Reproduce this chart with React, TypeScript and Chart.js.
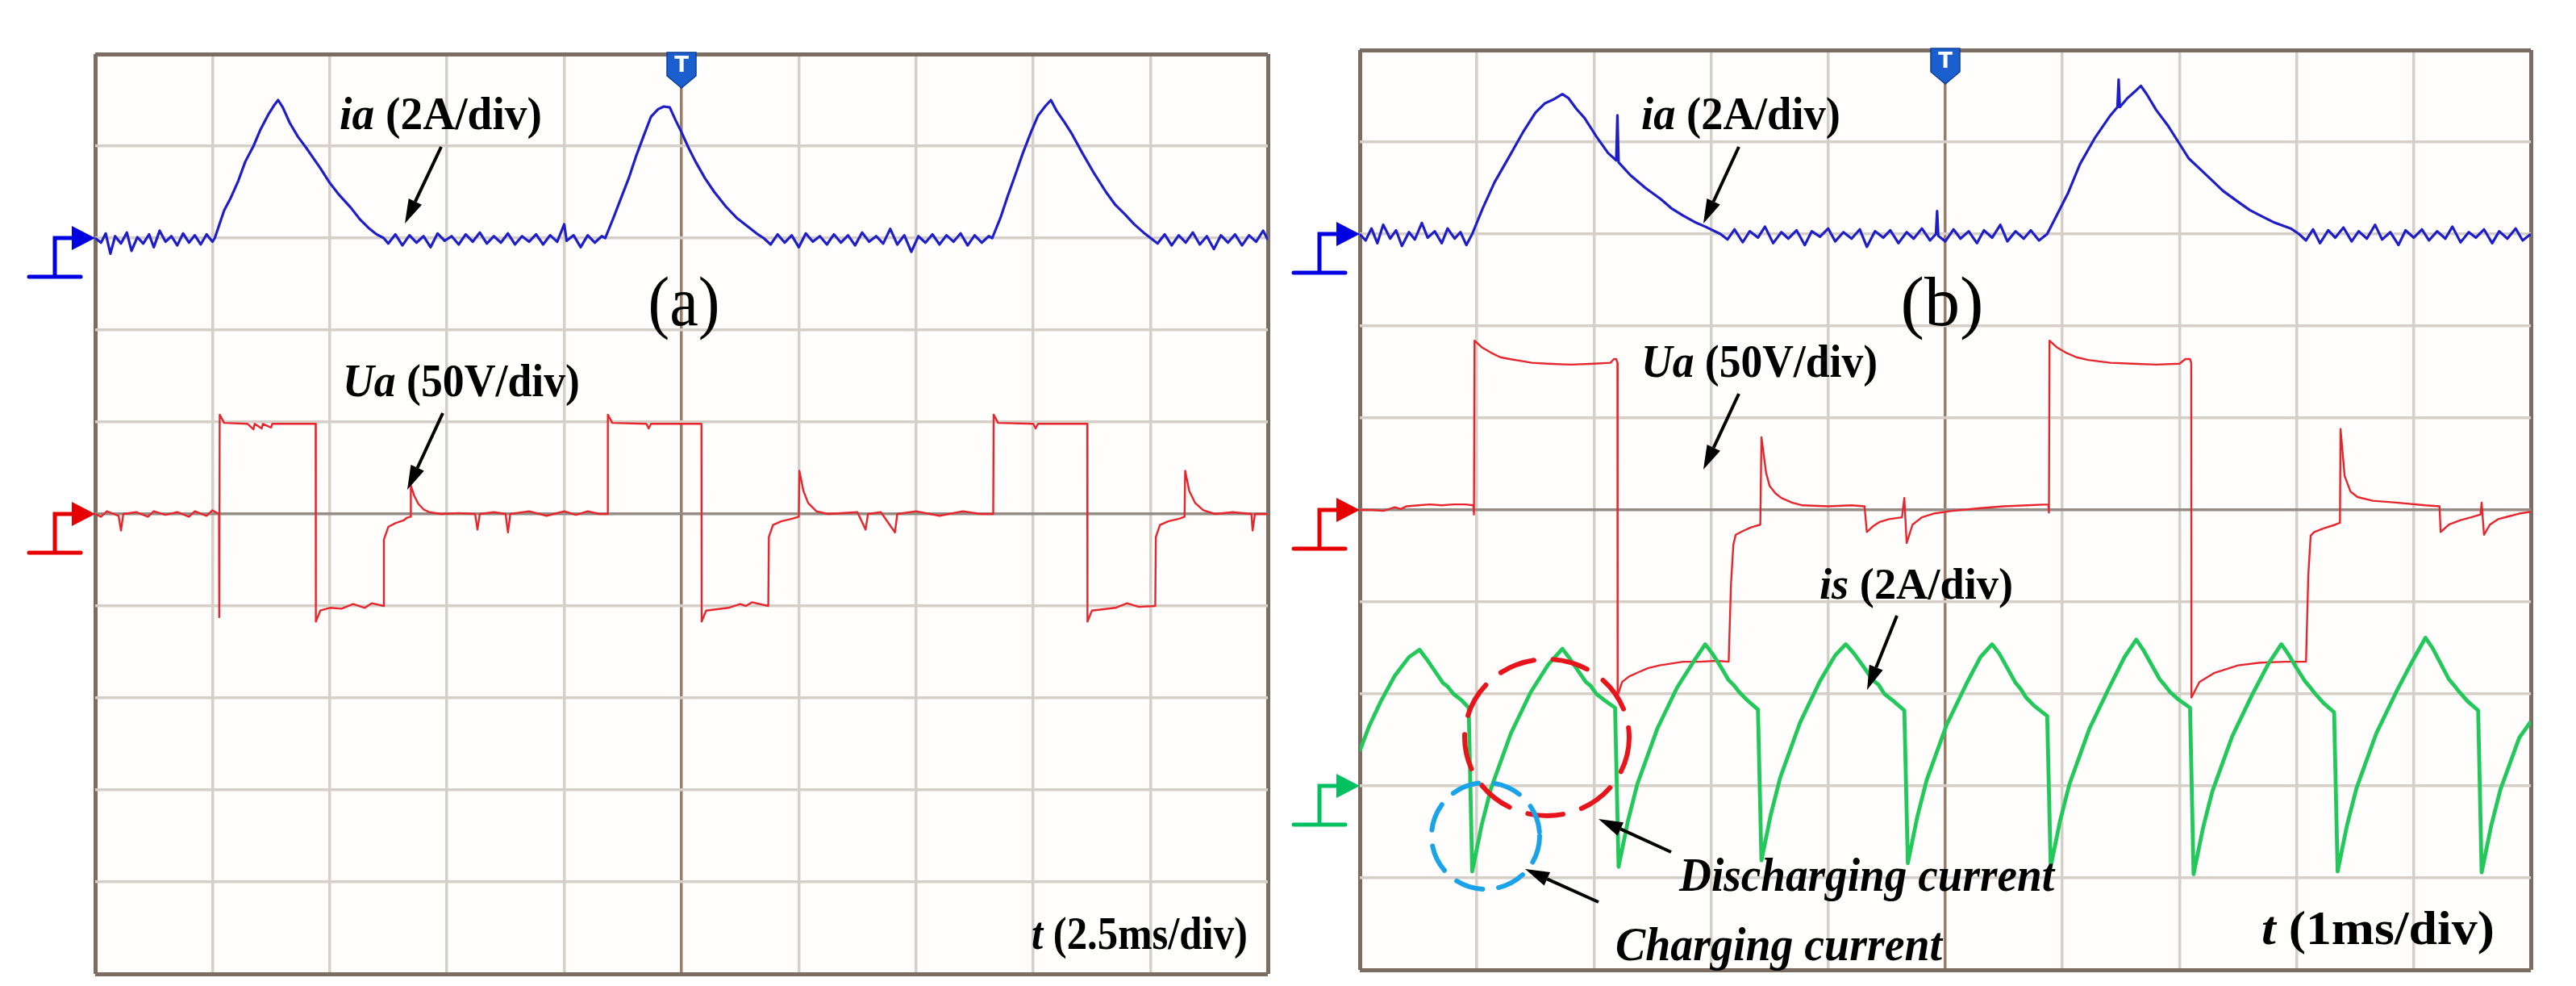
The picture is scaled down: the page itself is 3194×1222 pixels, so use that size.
import React, { useEffect, useRef } from 'react';
import { Chart, registerables } from 'chart.js';

Chart.register(...registerables);

const W = 3194;
const H = 1222;

// ---------- Panel (a): t = 2.5 ms/div, values in screen divisions ----------
const A_IA: number[][] = [
  [0, 8.0], [0.05, 7.95], [0.09, 8.05], [0.13, 7.83], [0.17, 8.02], [0.22, 7.94], [0.27, 8.06], [0.31, 7.86], [0.36, 8.01], [0.41, 7.94], [0.46, 8.04], [0.5, 7.9], [0.55, 8.08], [0.6, 7.96], [0.65, 8.02], [0.7, 7.92], [0.75, 8.05], [0.8, 7.95], [0.85, 8.03], [0.9, 7.93], [0.95, 8.04], [1.0, 7.96], [1.02, 8.0],
  [1.1, 8.3], [1.15, 8.42], [1.22, 8.62], [1.28, 8.83], [1.35, 9.0], [1.41, 9.18], [1.48, 9.35], [1.53, 9.45], [1.56, 9.5],
  [1.6, 9.42], [1.66, 9.25], [1.73, 9.1], [1.8, 8.98], [1.86, 8.87], [1.92, 8.76], [2.0, 8.6], [2.08, 8.47], [2.18, 8.33], [2.26, 8.2], [2.34, 8.1], [2.4, 8.04], [2.46, 8.0],
  [2.5, 7.94], [2.56, 8.04], [2.62, 7.92], [2.68, 8.03], [2.74, 7.95], [2.8, 8.02], [2.86, 7.9], [2.92, 8.05], [2.98, 7.97], [3.04, 8.02], [3.1, 7.93], [3.16, 8.04], [3.22, 7.96], [3.28, 8.06], [3.34, 7.94], [3.4, 8.02], [3.46, 7.95], [3.52, 8.05], [3.58, 7.93], [3.64, 8.02], [3.7, 7.96], [3.76, 8.04], [3.82, 7.93], [3.88, 8.03], [3.94, 7.96], [4.0, 8.15], [4.02, 7.97], [4.08, 8.03], [4.14, 7.9], [4.2, 8.03], [4.26, 7.95], [4.32, 8.02], [4.35, 8.0],
  [4.42, 8.22], [4.48, 8.42], [4.55, 8.65], [4.61, 8.88], [4.68, 9.12], [4.74, 9.32], [4.8, 9.4], [4.85, 9.43], [4.9, 9.42],
  [4.95, 9.28], [5.0, 9.15], [5.06, 8.98], [5.12, 8.83], [5.2, 8.65], [5.28, 8.5], [5.38, 8.34], [5.47, 8.22], [5.57, 8.12], [5.64, 8.05], [5.7, 8.0],
  [5.76, 7.93], [5.82, 8.04], [5.88, 7.95], [5.94, 8.03], [6.0, 7.9], [6.06, 8.05], [6.12, 7.96], [6.18, 8.02], [6.24, 7.93], [6.3, 8.04], [6.36, 7.95], [6.42, 8.03], [6.48, 7.92], [6.54, 8.06], [6.6, 7.96], [6.66, 8.02], [6.72, 7.94], [6.78, 8.1], [6.84, 7.93], [6.9, 8.03], [6.96, 7.85], [7.02, 8.02], [7.08, 7.95], [7.14, 8.04], [7.2, 7.93], [7.26, 8.03], [7.32, 7.96], [7.38, 8.05], [7.44, 7.92], [7.5, 8.03], [7.56, 7.95], [7.62, 8.02], [7.65, 8.0],
  [7.72, 8.22], [7.78, 8.45], [7.85, 8.7], [7.91, 8.92], [7.98, 9.15], [8.04, 9.33], [8.1, 9.43], [8.15, 9.5],
  [8.2, 9.38], [8.26, 9.27], [8.33, 9.13], [8.42, 8.92], [8.52, 8.7], [8.62, 8.5], [8.7, 8.36], [8.78, 8.26], [8.86, 8.15], [8.94, 8.06], [9.0, 8.0],
  [9.06, 7.94], [9.12, 8.04], [9.18, 7.92], [9.24, 8.03], [9.3, 7.95], [9.36, 8.06], [9.42, 7.93], [9.48, 8.02], [9.54, 7.88], [9.6, 8.03], [9.66, 7.95], [9.72, 8.04], [9.78, 7.92], [9.84, 8.03], [9.9, 7.96], [9.96, 8.08], [10, 7.98],
];

const A_UA: number[][] = [
  [0, 5.0], [0.05, 4.97], [0.1, 5.03], [0.2, 4.98], [0.22, 4.82], [0.24, 5.0], [0.35, 5.02], [0.45, 4.97], [0.5, 5.03], [0.6, 4.99], [0.7, 5.02], [0.8, 4.97], [0.85, 5.03], [0.95, 4.98], [1.0, 5.04], [1.056, 5.0],
  [1.058, 3.88], [1.062, 6.08], [1.1, 5.99], [1.3, 5.98], [1.35, 5.92], [1.36, 5.98], [1.42, 5.93], [1.43, 5.98], [1.5, 5.94], [1.51, 5.98], [1.88, 5.98],
  [1.882, 3.83], [1.92, 3.95], [2.0, 3.98], [2.1, 3.97], [2.2, 4.02], [2.3, 3.98], [2.36, 4.03], [2.46, 4.0],
  [2.462, 4.72], [2.5, 4.86], [2.56, 4.9], [2.63, 4.93], [2.66, 4.96], [2.69, 4.97], [2.692, 5.31], [2.72, 5.2], [2.756, 5.11], [2.8, 5.05], [2.85, 5.02], [2.95, 5.0],
  [3.1, 5.01], [3.24, 5.0], [3.26, 4.83], [3.28, 5.0], [3.4, 5.02], [3.5, 5.0], [3.52, 4.8], [3.54, 5.0], [3.7, 5.03], [3.85, 4.98], [4.0, 5.03], [4.1, 4.99], [4.2, 5.03], [4.3, 5.0], [4.368, 5.0],
  [4.372, 6.08], [4.41, 5.99], [4.7, 5.98], [4.72, 5.93], [4.74, 5.98], [5.17, 5.98],
  [5.172, 3.83], [5.21, 3.95], [5.4, 3.98], [5.5, 4.02], [5.55, 4.0], [5.6, 4.04], [5.74, 4.0],
  [5.745, 4.75], [5.78, 4.88], [5.85, 4.92], [5.95, 4.95], [6.0, 4.97], [6.005, 5.47], [6.04, 5.25], [6.08, 5.12], [6.15, 5.03], [6.25, 5.0],
  [6.5, 5.02], [6.57, 4.83], [6.59, 5.0], [6.7, 5.02], [6.82, 4.8], [6.84, 5.0], [7.0, 5.03], [7.2, 4.98], [7.4, 5.03], [7.55, 5.0], [7.658, 5.0],
  [7.662, 6.08], [7.7, 5.99], [8.0, 5.98], [8.02, 5.93], [8.04, 5.98], [8.46, 5.98],
  [8.462, 3.83], [8.5, 3.95], [8.7, 3.98], [8.8, 4.03], [8.9, 3.99], [9.04, 4.0],
  [9.045, 4.75], [9.08, 4.88], [9.15, 4.92], [9.25, 4.95], [9.29, 4.97], [9.295, 5.47], [9.33, 5.25], [9.38, 5.12], [9.45, 5.04], [9.55, 5.0], [9.7, 5.02], [9.86, 5.0], [9.87, 4.82], [9.89, 5.0], [10, 5.0],
];

// ---------- Panel (b): t = 1 ms/div ----------
const B_IA: number[][] = [
  [0, 8.0], [0.05, 7.93], [0.1, 8.06], [0.15, 7.9], [0.2, 8.1], [0.26, 7.95], [0.31, 8.04], [0.36, 7.87], [0.42, 8.02], [0.47, 7.94], [0.53, 8.12], [0.58, 7.96], [0.64, 8.03], [0.7, 7.9], [0.75, 8.06], [0.81, 7.95], [0.86, 8.02], [0.91, 7.88], [0.96, 8.0],
  [1.05, 8.28], [1.15, 8.56], [1.28, 8.85], [1.4, 9.12], [1.5, 9.32], [1.58, 9.42], [1.65, 9.46], [1.73, 9.52], [1.78, 9.48],
  [1.85, 9.36], [1.92, 9.26], [2.02, 9.06], [2.12, 8.88], [2.19, 8.8], [2.2, 9.29], [2.21, 8.78], [2.31, 8.64], [2.44, 8.5], [2.57, 8.38], [2.66, 8.28], [2.76, 8.2], [2.86, 8.13], [2.95, 8.08], [3.08, 8.0],
  [3.14, 7.94], [3.2, 8.05], [3.27, 7.91], [3.33, 8.03], [3.4, 7.96], [3.46, 8.08], [3.53, 7.9], [3.6, 8.02], [3.66, 7.95], [3.73, 8.04], [3.8, 7.88], [3.86, 8.03], [3.93, 7.97], [4.0, 8.06], [4.06, 7.92], [4.13, 8.02], [4.2, 7.95], [4.27, 8.05], [4.33, 7.86], [4.4, 8.03], [4.47, 7.96], [4.53, 8.04], [4.6, 7.9], [4.67, 8.02], [4.73, 7.95], [4.8, 8.06], [4.87, 7.93], [4.92, 8.0], [4.93, 8.25], [4.94, 7.98], [5.0, 7.92], [5.07, 8.05], [5.13, 7.95], [5.2, 8.03], [5.27, 7.9], [5.33, 8.04], [5.4, 7.96], [5.47, 8.1], [5.53, 7.92], [5.6, 8.03], [5.67, 7.95], [5.73, 8.04], [5.8, 7.93], [5.87, 8.0],
  [5.95, 8.2], [6.05, 8.45], [6.15, 8.76], [6.28, 9.05], [6.41, 9.29], [6.47, 9.38], [6.48, 9.68], [6.49, 9.38], [6.55, 9.47], [6.62, 9.55], [6.67, 9.61], [6.72, 9.52],
  [6.8, 9.35], [6.9, 9.18], [6.99, 9.0], [7.08, 8.82], [7.18, 8.7], [7.28, 8.58], [7.37, 8.47], [7.5, 8.35], [7.6, 8.26], [7.69, 8.2], [7.8, 8.13], [7.95, 8.06], [8.02, 8.0],
  [8.08, 7.93], [8.14, 8.05], [8.2, 7.9], [8.27, 8.04], [8.33, 7.96], [8.4, 8.07], [8.47, 7.92], [8.53, 8.03], [8.6, 7.95], [8.67, 8.1], [8.73, 7.94], [8.8, 8.02], [8.87, 7.88], [8.93, 8.04], [9.0, 7.96], [9.07, 8.05], [9.13, 7.93], [9.2, 8.03], [9.27, 7.95], [9.33, 8.08], [9.4, 7.91], [9.47, 8.02], [9.53, 7.96], [9.6, 8.05], [9.67, 7.9], [9.73, 8.03], [9.8, 7.95], [9.87, 8.06], [9.93, 7.93], [10, 8.0],
];

const B_UA: number[][] = [
  [0, 5.0], [0.1, 5.0], [0.2, 4.99], [0.3, 5.03], [0.35, 5.01], [0.4, 5.04], [0.5, 5.05], [0.6, 5.06], [0.7, 5.05], [0.8, 5.06], [0.9, 5.06], [0.97, 5.05], [0.975, 4.95],
  [0.98, 6.84], [1.04, 6.77], [1.12, 6.71], [1.2, 6.66], [1.28, 6.64], [1.38, 6.62], [1.47, 6.6], [1.6, 6.59], [1.8, 6.58], [2.0, 6.59], [2.14, 6.6], [2.17, 6.64], [2.19, 6.64], [2.2, 6.6],
  [2.202, 2.98], [2.24, 3.13], [2.3, 3.19], [2.37, 3.23], [2.46, 3.28], [2.56, 3.31], [2.66, 3.33], [2.76, 3.35], [2.9, 3.35], [3.05, 3.36], [3.15, 3.35],
  [3.17, 4.2], [3.19, 4.62], [3.21, 4.73], [3.27, 4.77], [3.34, 4.81], [3.42, 4.84], [3.43, 5.79], [3.47, 5.4], [3.5, 5.26], [3.55, 5.18], [3.6, 5.13], [3.69, 5.08], [3.78, 5.05], [4.0, 5.04], [4.2, 5.05], [4.31, 5.04],
  [4.33, 4.76], [4.38, 4.82], [4.44, 4.87], [4.52, 4.9], [4.63, 4.92], [4.65, 5.13], [4.67, 4.64], [4.72, 4.84], [4.8, 4.92], [4.9, 4.96], [5.06, 4.99], [5.3, 5.02], [5.5, 5.04], [5.7, 5.05], [5.88, 5.06], [5.885, 4.97],
  [5.89, 6.84], [5.95, 6.77], [6.03, 6.71], [6.12, 6.66], [6.22, 6.63], [6.41, 6.6], [6.6, 6.59], [6.8, 6.58], [7.0, 6.59], [7.05, 6.64], [7.09, 6.64], [7.1, 6.6],
  [7.102, 2.96], [7.17, 3.13], [7.3, 3.23], [7.5, 3.31], [7.69, 3.34], [7.9, 3.35], [8.08, 3.35],
  [8.1, 4.3], [8.12, 4.72], [8.15, 4.76], [8.23, 4.8], [8.33, 4.84], [8.37, 4.86], [8.375, 5.88], [8.41, 5.37], [8.46, 5.2], [8.52, 5.14], [8.65, 5.1], [8.85, 5.08], [9.1, 5.05], [9.22, 5.04],
  [9.23, 4.76], [9.3, 4.84], [9.4, 4.89], [9.49, 4.92], [9.57, 4.95], [9.58, 5.08], [9.6, 4.73], [9.65, 4.84], [9.72, 4.9], [9.81, 4.93], [9.9, 4.96], [10, 4.98],
];

const B_IS: number[][] = [
  [0, 2.38], [0.08, 2.65], [0.18, 2.92], [0.3, 3.2], [0.42, 3.4], [0.51, 3.48],
  [0.57, 3.38], [0.64, 3.25], [0.71, 3.12], [0.75, 3.08], [0.8, 3.0], [0.87, 2.93], [0.93, 2.85], [0.96, 1.07],
  [1.04, 1.57], [1.12, 1.97], [1.29, 2.57], [1.46, 3.02], [1.61, 3.32], [1.73, 3.49],
  [1.79, 3.39], [1.86, 3.26], [1.93, 3.13], [1.97, 3.09], [2.02, 3.0], [2.09, 2.93], [2.18, 2.85], [2.21, 1.12],
  [2.29, 1.62], [2.37, 2.02], [2.54, 2.62], [2.71, 3.07], [2.86, 3.37], [2.95, 3.54],
  [3.01, 3.44], [3.08, 3.3], [3.15, 3.15], [3.19, 3.1], [3.24, 3.02], [3.31, 2.93], [3.4, 2.83], [3.43, 1.19],
  [3.51, 1.69], [3.59, 2.09], [3.76, 2.69], [3.93, 3.14], [4.06, 3.42], [4.15, 3.54],
  [4.22, 3.44], [4.3, 3.3], [4.38, 3.15], [4.43, 3.1], [4.48, 3.0], [4.56, 2.92], [4.65, 2.82], [4.68, 1.16],
  [4.76, 1.66], [4.84, 2.06], [5.01, 2.66], [5.18, 3.11], [5.3, 3.4], [5.4, 3.54],
  [5.46, 3.44], [5.53, 3.28], [5.6, 3.12], [5.64, 3.06], [5.69, 2.96], [5.76, 2.87], [5.87, 2.76], [5.9, 1.12],
  [5.98, 1.62], [6.06, 2.02], [6.23, 2.62], [6.4, 3.07], [6.53, 3.4], [6.63, 3.59],
  [6.69, 3.48], [6.76, 3.32], [6.83, 3.16], [6.87, 3.1], [6.92, 3.02], [6.99, 2.94], [7.09, 2.85], [7.12, 1.04],
  [7.2, 1.54], [7.28, 1.94], [7.45, 2.54], [7.62, 2.99], [7.76, 3.33], [7.87, 3.54],
  [7.93, 3.43], [8.0, 3.28], [8.07, 3.14], [8.11, 3.08], [8.16, 3.0], [8.23, 2.9], [8.32, 2.8], [8.35, 1.07],
  [8.43, 1.57], [8.51, 1.97], [8.68, 2.57], [8.85, 3.02], [8.99, 3.36], [9.1, 3.61],
  [9.16, 3.5], [9.23, 3.33], [9.3, 3.16], [9.34, 3.1], [9.39, 3.02], [9.46, 2.92], [9.55, 2.82], [9.58, 1.06],
  [9.66, 1.56], [9.74, 1.96], [9.9, 2.52], [10, 2.7],
];

// Channel reference levels (div) and axis divisions
const LEVEL_IA = 8;
const LEVEL_UA = 5;
const LEVEL_IS = 2;
const DIVS = [0, 10];

const FONT = '"Liberation Serif", "Times New Roman", serif';
const BI = (s: number) => `italic bold ${s}px ${FONT}`;
const B = (s: number) => `bold ${s}px ${FONT}`;
const R = (s: number) => `${s}px ${FONT}`;

type Part = [string, string];
interface Label { parts: Part[]; x: number; y: number; w: number; align?: 'left' | 'right' | 'center' }

function drawLabel(ctx: CanvasRenderingContext2D, lab: Label) {
  let natural = 0;
  for (const [t, f] of lab.parts) { ctx.font = f; natural += ctx.measureText(t).width; }
  const sx = lab.w / natural;
  const total = lab.w;
  const x0 = lab.align === 'right' ? lab.x - total : lab.align === 'center' ? lab.x - total / 2 : lab.x;
  ctx.save();
  ctx.translate(x0, lab.y);
  ctx.scale(sx, 1);
  ctx.fillStyle = '#000';
  ctx.textAlign = 'left';
  ctx.textBaseline = 'alphabetic';
  let cx = 0;
  for (const [t, f] of lab.parts) { ctx.font = f; ctx.fillText(t, cx, 0); cx += ctx.measureText(t).width; }
  ctx.restore();
}

function drawArrow(ctx: CanvasRenderingContext2D, x1: number, y1: number, x2: number, y2: number, head = 30, half = 9, lw = 4) {
  const a = Math.atan2(y2 - y1, x2 - x1);
  const bx = x2 - head * Math.cos(a);
  const by = y2 - head * Math.sin(a);
  ctx.save();
  ctx.strokeStyle = '#000';
  ctx.fillStyle = '#000';
  ctx.lineWidth = lw;
  ctx.beginPath(); ctx.moveTo(x1, y1); ctx.lineTo(bx, by); ctx.stroke();
  ctx.beginPath();
  ctx.moveTo(x2, y2);
  ctx.lineTo(bx + half * Math.sin(a), by - half * Math.cos(a));
  ctx.lineTo(bx - half * Math.sin(a), by + half * Math.cos(a));
  ctx.closePath(); ctx.fill();
  ctx.restore();
}

function drawLevel(ctx: CanvasRenderingContext2D, left: number, y: number, color: string) {
  ctx.save();
  ctx.strokeStyle = color; ctx.fillStyle = color; ctx.lineWidth = 5;
  ctx.lineCap = 'round';
  ctx.beginPath(); ctx.moveTo(left - 82, y + 48); ctx.lineTo(left - 18, y + 48); ctx.stroke();
  ctx.lineCap = 'butt'; ctx.lineJoin = 'miter';
  ctx.beginPath(); ctx.moveTo(left - 50, y + 48); ctx.lineTo(left - 50, y); ctx.lineTo(left - 26, y); ctx.stroke();
  ctx.beginPath(); ctx.moveTo(left - 29, y - 15); ctx.lineTo(left, y); ctx.lineTo(left - 29, y + 15); ctx.closePath(); ctx.fill();
  ctx.restore();
}

function drawTrigger(ctx: CanvasRenderingContext2D, cx: number, top: number) {
  ctx.save();
  ctx.fillStyle = '#1b5fcf';
  ctx.strokeStyle = '#0d3f9a';
  ctx.lineWidth = 1.5;
  ctx.beginPath();
  ctx.moveTo(cx - 18, top); ctx.lineTo(cx + 18, top); ctx.lineTo(cx + 18, top + 29);
  ctx.lineTo(cx, top + 44); ctx.lineTo(cx - 18, top + 29); ctx.closePath();
  ctx.fill(); ctx.stroke();
  ctx.fillStyle = '#fff';
  ctx.font = 'bold 26px "DejaVu Sans", sans-serif';
  ctx.textAlign = 'center'; ctx.textBaseline = 'middle';
  ctx.fillText('T', cx, top + 17);
  ctx.restore();
}

interface Circle { cx: number; cy: number; rx: number; ry: number; color: string; dash: number[] }
interface PanelDef {
  id: string;
  pad: { left: number; top: number; right: number; bottom: number };
  series: { data: number[][]; color: string; width: number; order: number }[];
  levels: { level: number; color: string }[];
  labels: Label[];
  arrows: number[][];
  circles: Circle[];
}

const PANELS: PanelDef[] = [
  {
    id: 'a',
    pad: { left: 118, top: 67, right: W - 1572, bottom: H - 1207 },
    series: [
      { data: A_IA, color: '#1e1ec8', width: 3.2, order: 0 },
      { data: A_UA, color: '#e6262c', width: 2.4, order: 2 },
    ],
    levels: [{ level: LEVEL_IA, color: '#0000e0' }, { level: LEVEL_UA, color: '#e60000' }],
    labels: [
      { parts: [['ia', BI(57)], [' (2A/div)', B(57)]], x: 421, y: 160, w: 251 },
      { parts: [['Ua', BI(56)], [' (50V/div)', B(56)]], x: 425, y: 491, w: 294 },
      { parts: [['t', BI(58)], [' (2.5ms/div)', B(58)]], x: 1547, y: 1176, w: 268, align: 'right' },
      { parts: [['(a)', R(86)]], x: 848, y: 403, w: 89, align: 'center' },
    ],
    arrows: [[547, 182, 502, 277], [549, 512, 505, 607]],
    circles: [],
  },
  {
    id: 'b',
    pad: { left: 1686, top: 62, right: W - 3138, bottom: H - 1202 },
    series: [
      { data: B_IA, color: '#1e1ec8', width: 3.2, order: 0 },
      { data: B_IS, color: '#22c95a', width: 4.8, order: 1 },
      { data: B_UA, color: '#e6262c', width: 2.4, order: 2 },
    ],
    levels: [{ level: LEVEL_IA, color: '#0000e0' }, { level: LEVEL_UA, color: '#e60000' }, { level: LEVEL_IS, color: '#00c060' }],
    labels: [
      { parts: [['ia', BI(57)], [' (2A/div)', B(57)]], x: 2035, y: 160, w: 247 },
      { parts: [['Ua', BI(57)], [' (50V/div)', B(57)]], x: 2035, y: 467, w: 293 },
      { parts: [['is', BI(54)], [' (2A/div)', B(54)]], x: 2256, y: 742, w: 240 },
      { parts: [['Discharging current', BI(60)]], x: 2082, y: 1104, w: 465 },
      { parts: [['Charging current', BI(60)]], x: 2003, y: 1190, w: 405 },
      { parts: [['t', BI(60)], [' (1ms/div)', B(60)]], x: 3093, y: 1170, w: 289, align: 'right' },
      { parts: [['(b)', R(86)]], x: 2408, y: 403, w: 103, align: 'center' },
    ],
    arrows: [[2156, 182, 2112, 277], [2156, 488, 2112, 582], [2352, 763, 2315, 855], [2072, 1056, 1982, 1015], [1982, 1118, 1891, 1077]],
    circles: [
      { cx: 1918, cy: 914, rx: 102, ry: 97, color: '#e8141b', dash: [44, 24] },
      { cx: 1842, cy: 1036, rx: 67, ry: 66, color: '#1aa3e8', dash: [34, 20] },
    ],
  },
];

const GRID = '#d6cfc8';
const FRAME = '#7b6d62';
const CENTER_X = '#9c7c66';
const CENTER_Y = '#958c86';

function makeChart(canvas: HTMLCanvasElement, p: PanelDef) {
  const gridFor = (center: string) => ({
    drawTicks: false,
    color: (c: any) => {
      const v = c.tick ? c.tick.value : -1;
      if (v === DIVS[0] || v === DIVS[1]) return FRAME;
      if (v === 5) return center;
      return GRID;
    },
    lineWidth: (c: any) => {
      const v = c.tick ? c.tick.value : -1;
      if (v === DIVS[0] || v === DIVS[1]) return 5;
      return 3.5;
    },
  });

  const decor = {
    id: 'decor-' + p.id,
    beforeDraw(chart: any) {
      const { ctx, chartArea: a } = chart;
      ctx.save();
      ctx.fillStyle = '#fffefc';
      ctx.fillRect(a.left, a.top, a.right - a.left, a.bottom - a.top);
      ctx.restore();
    },
    afterDraw(chart: any) {
      const { ctx, chartArea: a, scales } = chart;
      for (const l of p.levels) drawLevel(ctx, a.left, scales.y.getPixelForValue(l.level), l.color);
      drawTrigger(ctx, scales.x.getPixelForValue(5), a.top - 2);
      for (const c of p.circles) {
        ctx.save();
        ctx.strokeStyle = c.color; ctx.lineWidth = 6; ctx.lineCap = 'round';
        ctx.setLineDash(c.dash);
        ctx.beginPath(); ctx.ellipse(c.cx, c.cy, c.rx, c.ry, 0, 0, Math.PI * 2); ctx.stroke();
        ctx.restore();
      }
      for (const ar of p.arrows) drawArrow(ctx, ar[0], ar[1], ar[2], ar[3]);
      for (const lab of p.labels) drawLabel(ctx, lab);
    },
  };

  return new Chart(canvas, {
    type: 'line',
    data: {
      datasets: p.series.map((s) => ({
        data: s.data.map(([x, y]) => ({ x, y })),
        borderColor: s.color,
        borderWidth: s.width,
        pointRadius: 0,
        tension: 0,
        fill: false,
        order: s.order,
        borderJoinStyle: 'round' as const,
      })),
    },
    options: {
      responsive: false,
      animation: false,
      events: [],
      layout: { padding: p.pad },
      plugins: { legend: { display: false }, tooltip: { enabled: false } },
      scales: {
        x: {
          type: 'linear', min: DIVS[0], max: DIVS[1],
          ticks: { display: false, stepSize: 1 },
          border: { display: false },
          grid: gridFor(CENTER_X),
          afterFit: (s: any) => { s.height = 0; },
        },
        y: {
          type: 'linear', min: DIVS[0], max: DIVS[1],
          ticks: { display: false, stepSize: 1 },
          border: { display: false },
          grid: gridFor(CENTER_Y),
          afterFit: (s: any) => { s.width = 0; },
        },
      },
    } as any,
    plugins: [decor],
  });
}

export default function App() {
  const refA = useRef<HTMLCanvasElement>(null);
  const refB = useRef<HTMLCanvasElement>(null);

  useEffect(() => {
    const charts: Chart[] = [];
    if (refA.current) charts.push(makeChart(refA.current, PANELS[0]));
    if (refB.current) charts.push(makeChart(refB.current, PANELS[1]));
    return () => charts.forEach((c) => c.destroy());
  }, []);

  const cs: React.CSSProperties = { position: 'absolute', left: 0, top: 0, width: W, height: H };
  return (
    <div style={{ position: 'absolute', left: 0, top: 0, width: W, height: H, background: '#fff', overflow: 'hidden' }}>
      <canvas ref={refA} width={W} height={H} style={cs} />
      <canvas ref={refB} width={W} height={H} style={cs} />
    </div>
  );
}
